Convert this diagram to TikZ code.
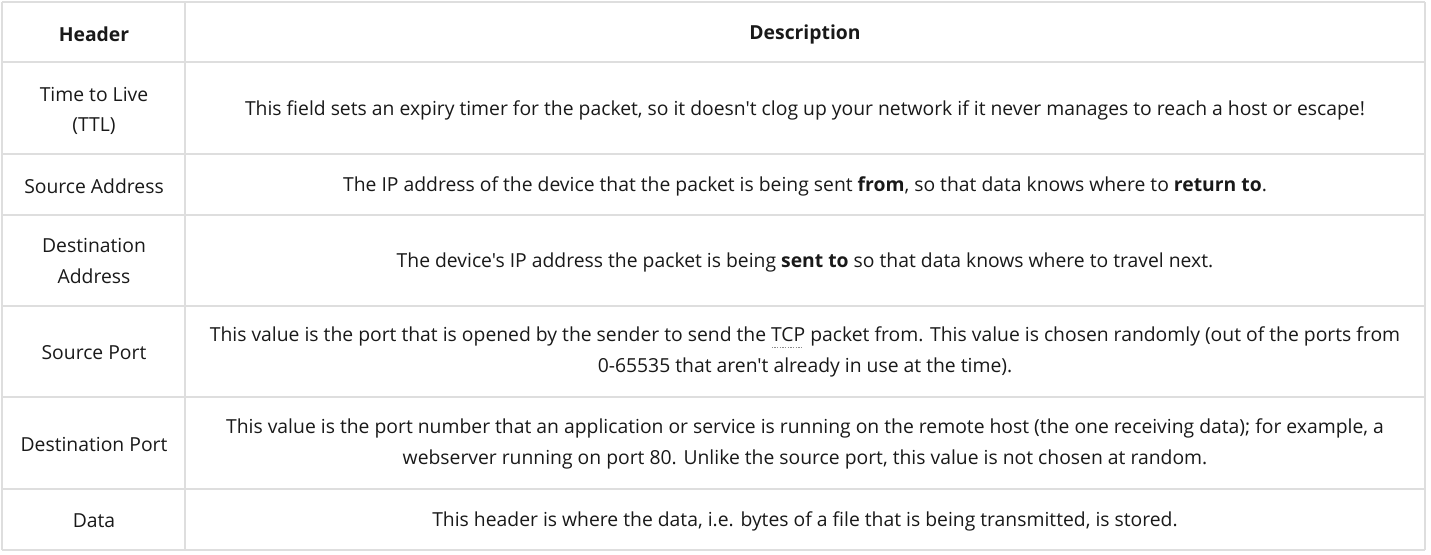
\documentclass[tikz,border=0pt]{standalone}
\usepackage{fontspec}
\setmainfont{Open Sans}[Ligatures=TeXOff]
% dotted underline for abbreviations
\newcommand\abbrdotted[1]{\setbox0\hbox{#1}\rlap{\raisebox{-5pt}{\color{abbrdots}\hbox to\wd0{\leaders\hbox to 2pt{\hss\rule{1pt}{0.8pt}\hss}\hfill}}}\box0\relax}
\begin{document}
\begin{tikzpicture}[x=0.75pt,y=-0.75pt,
  gridline/.style={draw=tablegray, line width=1pt},
  cell/.style={inner sep=0pt, align=center, text=tabletext, font=\fontsize{14.5}{23}\selectfont},
  headcell/.style={cell, font=\fontsize{14.5}{23}\selectfont\bfseries}]

% Define the colors
\colorlet{tablegray}{black!13}
\colorlet{tabletext}{black!90}
\colorlet{abbrdots}{black!45}

% Fix the page size
\useasboundingbox (0,0) rectangle (1431,554);

% Draw the grid
\foreach \y in {2,62,154,215,306,397,489,550}
  \draw[gridline] (2,\y) -- (1425,\y);
\foreach \x in {2,185,1425}
  \draw[gridline] (\x,2) -- (\x,550);

% Draw the header row
\node[headcell] (head) at (94,34) {Header};
\node[headcell] (desc) at (805,34) {Description};

% Draw the first column
\node[cell] (ttl) at (94,111) {Time to Live\\(TTL)};
\node[cell] (srcaddr) at (94,186) {Source Address};
\node[cell] (dstaddr) at (94,261) {Destination\\Address};
\node[cell] (srcport) at (94,353) {Source Port};
\node[cell] (dstport) at (94,444) {Destination Port};
\node[cell] (data) at (94,521) {Data};

% Draw the descriptions
\node[cell] (ttltext) at (805,110) {This field sets an expiry timer for the packet, so it doesn't clog up your network if it never manages to reach a host or escape!};
\node[cell] (srcaddrtext) at (805,186) {The IP address of the device that the packet is being sent \textbf{from}, so that data knows where to \textbf{return to}.};
\node[cell] (dstaddrtext) at (805,262) {The device's IP address the packet is being \textbf{sent to} so that data knows where to travel next.};
\node[cell] (srcporttext) at (805,352) {This value is the port that is opened by the sender to send the \abbrdotted{TCP} packet from. This value is chosen randomly (out of the ports from\\0-65535 that aren't already in use at the time).};
\node[cell] (dstporttext) at (805,444) {This value is the port number that an application or service is running on the remote host (the one receiving data); for example, a\\webserver running on port 80. Unlike the source port, this value is not chosen at random.};
\node[cell] (datatext) at (805,521) {This header is where the data, i.e. bytes of a file that is being transmitted, is stored.};

\end{tikzpicture}
\end{document}
